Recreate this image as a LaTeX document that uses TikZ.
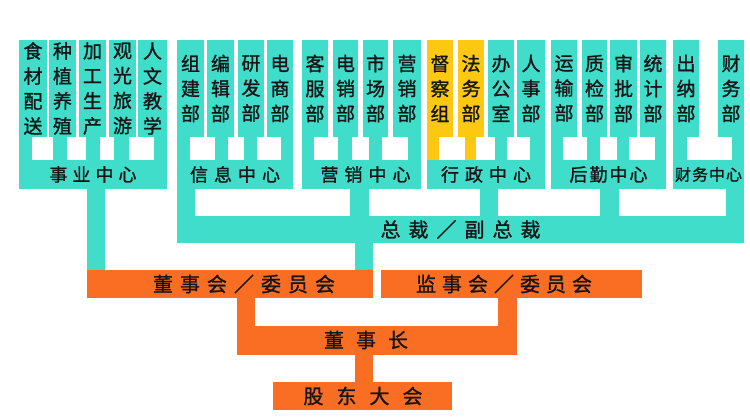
\documentclass[tikz,border=0pt]{standalone}
\usepackage{fontspec}
\newfontfamily\cjk{Noto Sans CJK SC}[FakeBold=1.2]
\definecolor{tq}{HTML}{40DDCB}
\definecolor{og}{HTML}{FA6E24}
\definecolor{yl}{HTML}{FCC812}
\definecolor{ink}{HTML}{151515}
\newcommand\kgap[1]{\hspace{#1pt}}
\newcommand\mystem[5][tq]{\fill[#1] ([xshift=#3pt]#2.south west) rectangle ([xshift=#4pt]#2.south west |- #5.north);}
\tikzset{
  col/.style={anchor=north west, inner sep=0pt, outer sep=0pt, minimum height=97pt, fill=tq, text=ink, align=center, font=\cjk\fontsize{19}{25}\selectfont},
  bar/.style={anchor=north west, inner sep=0pt, outer sep=0pt, minimum height=29pt, fill=tq, text=ink, font=\cjk\fontsize{18}{18}\selectfont},
  obar/.style={anchor=north west, inner sep=0pt, outer sep=0pt, minimum height=28pt, fill=og},
  otxt/.style={inner sep=0pt, text=ink, font=\cjk\fontsize{20}{20}\selectfont}
}
\begin{document}
\begin{tikzpicture}[x=1pt,y=-1pt]
\useasboundingbox (0,0) rectangle (750,420);
% columns
\node[col, minimum width=28pt] (c11) at (19,40) {食\\材\\配\\送};
\node[col, minimum width=27pt] (c12) at (49,40) {种\\植\\养\\殖};
\node[col, minimum width=27pt] (c13) at (79,40) {加\\工\\生\\产};
\node[col, minimum width=27pt] (c14) at (109,40) {观\\光\\旅\\游};
\node[col, minimum width=29pt] (c15) at (138,40) {人\\文\\教\\学};
\node[col, minimum width=27pt] (c21) at (177,40) {组\\建\\部};
\node[col, minimum width=27pt] (c22) at (207,40) {编\\辑\\部};
\node[col, minimum width=26pt] (c23) at (238,40) {研\\发\\部};
\node[col, minimum width=26pt] (c24) at (267,40) {电\\商\\部};
\node[col, minimum width=26pt] (c31) at (302,40) {客\\服\\部};
\node[col, minimum width=25pt] (c32) at (333,40) {电\\销\\部};
\node[col, minimum width=25pt] (c33) at (363,40) {市\\场\\部};
\node[col, minimum width=28pt] (c34) at (393,40) {营\\销\\部};
\node[col, fill=yl, minimum width=26pt] (c41) at (427,40) {督\\察\\组};
\node[col, fill=yl, minimum width=26pt] (c42) at (458,40) {法\\务\\部};
\node[col, minimum width=26pt] (c43) at (488,40) {办\\公\\室};
\node[col, minimum width=28pt] (c44) at (517,40) {人\\事\\部};
\node[col, minimum width=26pt] (c51) at (551,40) {运\\输\\部};
\node[col, minimum width=25pt] (c52) at (582,40) {质\\检\\部};
\node[col, minimum width=27pt] (c53) at (610,40) {审\\批\\部};
\node[col, minimum width=26pt] (c54) at (640,40) {统\\计\\部};
\node[col, minimum width=26pt] (c61) at (673,40) {出\\纳\\部};
\node[col, minimum width=26pt] (c62) at (718,40) {财\\务\\部};
% centre bars
\node[bar, minimum width=148pt] (b1) at (19,160) {事\kgap5业\kgap5中\kgap5心};
\node[bar, minimum width=116pt] (b2) at (177,160) {信\kgap6息\kgap6中\kgap6心};
\node[bar, minimum width=119pt] (b3) at (302,160) {\kgap8营\kgap6销\kgap6中\kgap6心};
\node[bar, minimum width=118pt] (b4) at (427,160) {行\kgap6政\kgap6中\kgap6心};
\node[bar, minimum width=115pt] (b5) at (551,160) {后\kgap2勤\kgap2中\kgap2心};
\node[bar, minimum width=71pt, font=\cjk\fontsize{16}{16}\selectfont] (b6) at (673,160) {财\kgap1务\kgap1中\kgap1心};
% president bar
\node[bar, minimum width=567pt, minimum height=27pt, font=\cjk\fontsize{20}{20}\selectfont] (P) at (177,216) {总\kgap8裁\kgap8／\kgap8副\kgap8总\kgap8裁};
% orange bars
\node[obar, minimum width=286pt] (D) at (87,270) {};
\node[obar, minimum width=261pt] (J) at (381,270) {};
\node[obar, minimum width=280pt, minimum height=29pt] (C) at (237,326) {};
\node[obar, minimum width=179pt] (G) at (273,382) {};
\node[otxt] (Dt) at (244,284) {董\kgap7事\kgap7会\kgap7／\kgap7委\kgap7员\kgap7会};
\node[otxt] (Jt) at (504,284) {监\kgap6事\kgap6会\kgap6／\kgap6委\kgap6员\kgap6会};
\node[otxt] (Ct) at (366,340) {董\kgap{12}事\kgap{12}长};
\node[otxt] (Gt) at (363,396) {股\kgap{13}东\kgap{13}大\kgap{13}会};
% stems columns -> centre bars
\mystem{c11}{0}{13}{b1}
\mystem{c12}{4}{18}{b1}
\mystem{c13}{7}{21}{b1}
\mystem{c14}{5}{20}{b1}
\mystem{c15}{16}{29}{b1}
\mystem{c21}{0}{13}{b2}
\mystem{c22}{8}{21}{b2}
\mystem{c23}{6}{19}{b2}
\mystem{c24}{14}{26}{b2}
\mystem{c31}{0}{12}{b3}
\mystem{c32}{5}{19}{b3}
\mystem{c33}{6}{19}{b3}
\mystem{c34}{15}{28}{b3}
\mystem[yl]{c41}{0}{12}{b4}
\mystem[yl]{c42}{7}{18}{b4}
\mystem{c43}{7}{19}{b4}
\mystem{c44}{13}{28}{b4}
\mystem{c51}{0}{12}{b5}
\mystem{c52}{5}{18}{b5}
\mystem{c53}{7}{19}{b5}
\mystem{c54}{15}{26}{b5}
\mystem{c61}{0}{14}{b6}
\mystem{c62}{14}{26}{b6}
% centre bars -> president / board
\mystem{b1}{68}{86}{D}
\mystem{b2}{0}{18}{P}
\mystem{b3}{48}{67}{P}
\mystem{b4}{53}{71}{P}
\mystem{b5}{49}{68}{P}
\mystem{b6}{53}{71}{P}
\mystem{P}{178}{196}{D}
\mystem[og]{D}{150}{168}{C}
\mystem[og]{J}{117}{136}{C}
\mystem[og]{C}{118}{136}{G}
\end{tikzpicture}
\end{document}
